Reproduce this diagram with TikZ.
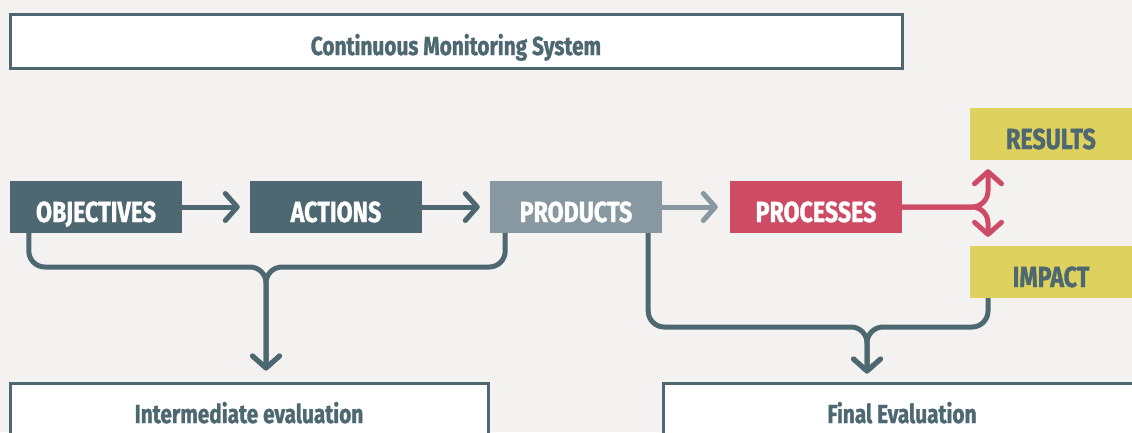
\documentclass[tikz,border=0pt]{standalone}
\usepackage{fontspec}
\usepackage{tikz}
\usetikzlibrary{arrows.meta}
\newfontfamily\condfont{Fira Sans}[FakeStretch=0.8, FakeBold=1.2]
\definecolor{slate}{HTML}{4E6872}
\definecolor{steel}{HTML}{8798A0}
\definecolor{rose}{HTML}{CD4B65}
\definecolor{mustard}{HTML}{DFD15D}
\definecolor{paper}{HTML}{F4F2F0}
\tikzset{
  stage/.style={minimum width=172pt, minimum height=52pt, inner sep=0pt,
    text height=30pt, text depth=0pt,
    text=white, font=\condfont\bfseries\fontsize{29}{32}\selectfont},
  outcome/.style={stage, minimum width=162pt, fill=mustard, text=slate},
  frame/.style={draw=slate, line width=3pt, fill=white, inner sep=0pt,
    text height=28pt, text depth=0pt,
    text=slate, font=\condfont\bfseries\fontsize{26}{30}\selectfont},
  flow/.style={line width=5pt, -{Straight Barb[round, length=12pt, width=27pt]}},
  brace/.style={flow, draw=slate, rounded corners=16pt}
}
\begin{document}
\begin{tikzpicture}[x=1pt, y=-1pt]
\clip (0,0) rectangle (1132,432);
\fill[paper] (0,0) rectangle (1132,432);
\node[frame, minimum width=892pt, minimum height=54pt] (cms) at (456,41) {Continuous Monitoring System};
\node[stage, fill=slate] (obj) at (96,207) {OBJECTIVES};
\node[stage, fill=slate] (act) at (336,207) {ACTIONS};
\node[stage, fill=steel] (prod) at (576,207) {PRODUCTS};
\node[stage, fill=rose] (proc) at (816,207) {PROCESSES};
\node[outcome] (res) at (1051,134) {RESULTS};
\node[outcome] (imp) at (1051,272) {IMPACT};
\node[frame, minimum width=478pt, minimum height=52pt] (mid) at (249,409) {Intermediate evaluation};
\node[frame, minimum width=478pt, minimum height=52pt] (fin) at (902,409) {Final Evaluation};
\coordinate (fork) at (988,207);
\coordinate (midjoin) at (266,267);
\coordinate (finjoin) at (867,327);
\draw[flow, draw=slate, shorten >=10pt] (obj) -- (act);
\draw[flow, draw=slate, shorten >=10pt] (act) -- (prod);
\draw[flow, draw=steel, shorten >=12pt] (prod) -- (proc);
\draw[flow, draw=rose, rounded corners=16pt, shorten >=9pt] (proc.east) -| (res.south -| fork);
\draw[flow, draw=rose, rounded corners=16pt, shorten >=9pt] (proc.east) -| (imp.north -| fork);
\draw[brace, shorten >=11pt] ([xshift=19pt]obj.south west) |- (midjoin) -- (mid.north -| midjoin);
\draw[brace, shorten >=11pt] ([xshift=-157pt]prod.south east) |- (midjoin) -- (mid.north -| midjoin);
\draw[brace, shorten >=8pt] ([xshift=-14pt]prod.south east) |- (finjoin) -- (fin.north -| finjoin);
\draw[brace, shorten >=8pt] (imp.south -| fork) |- (finjoin) -- (fin.north -| finjoin);
\end{tikzpicture}
\end{document}
